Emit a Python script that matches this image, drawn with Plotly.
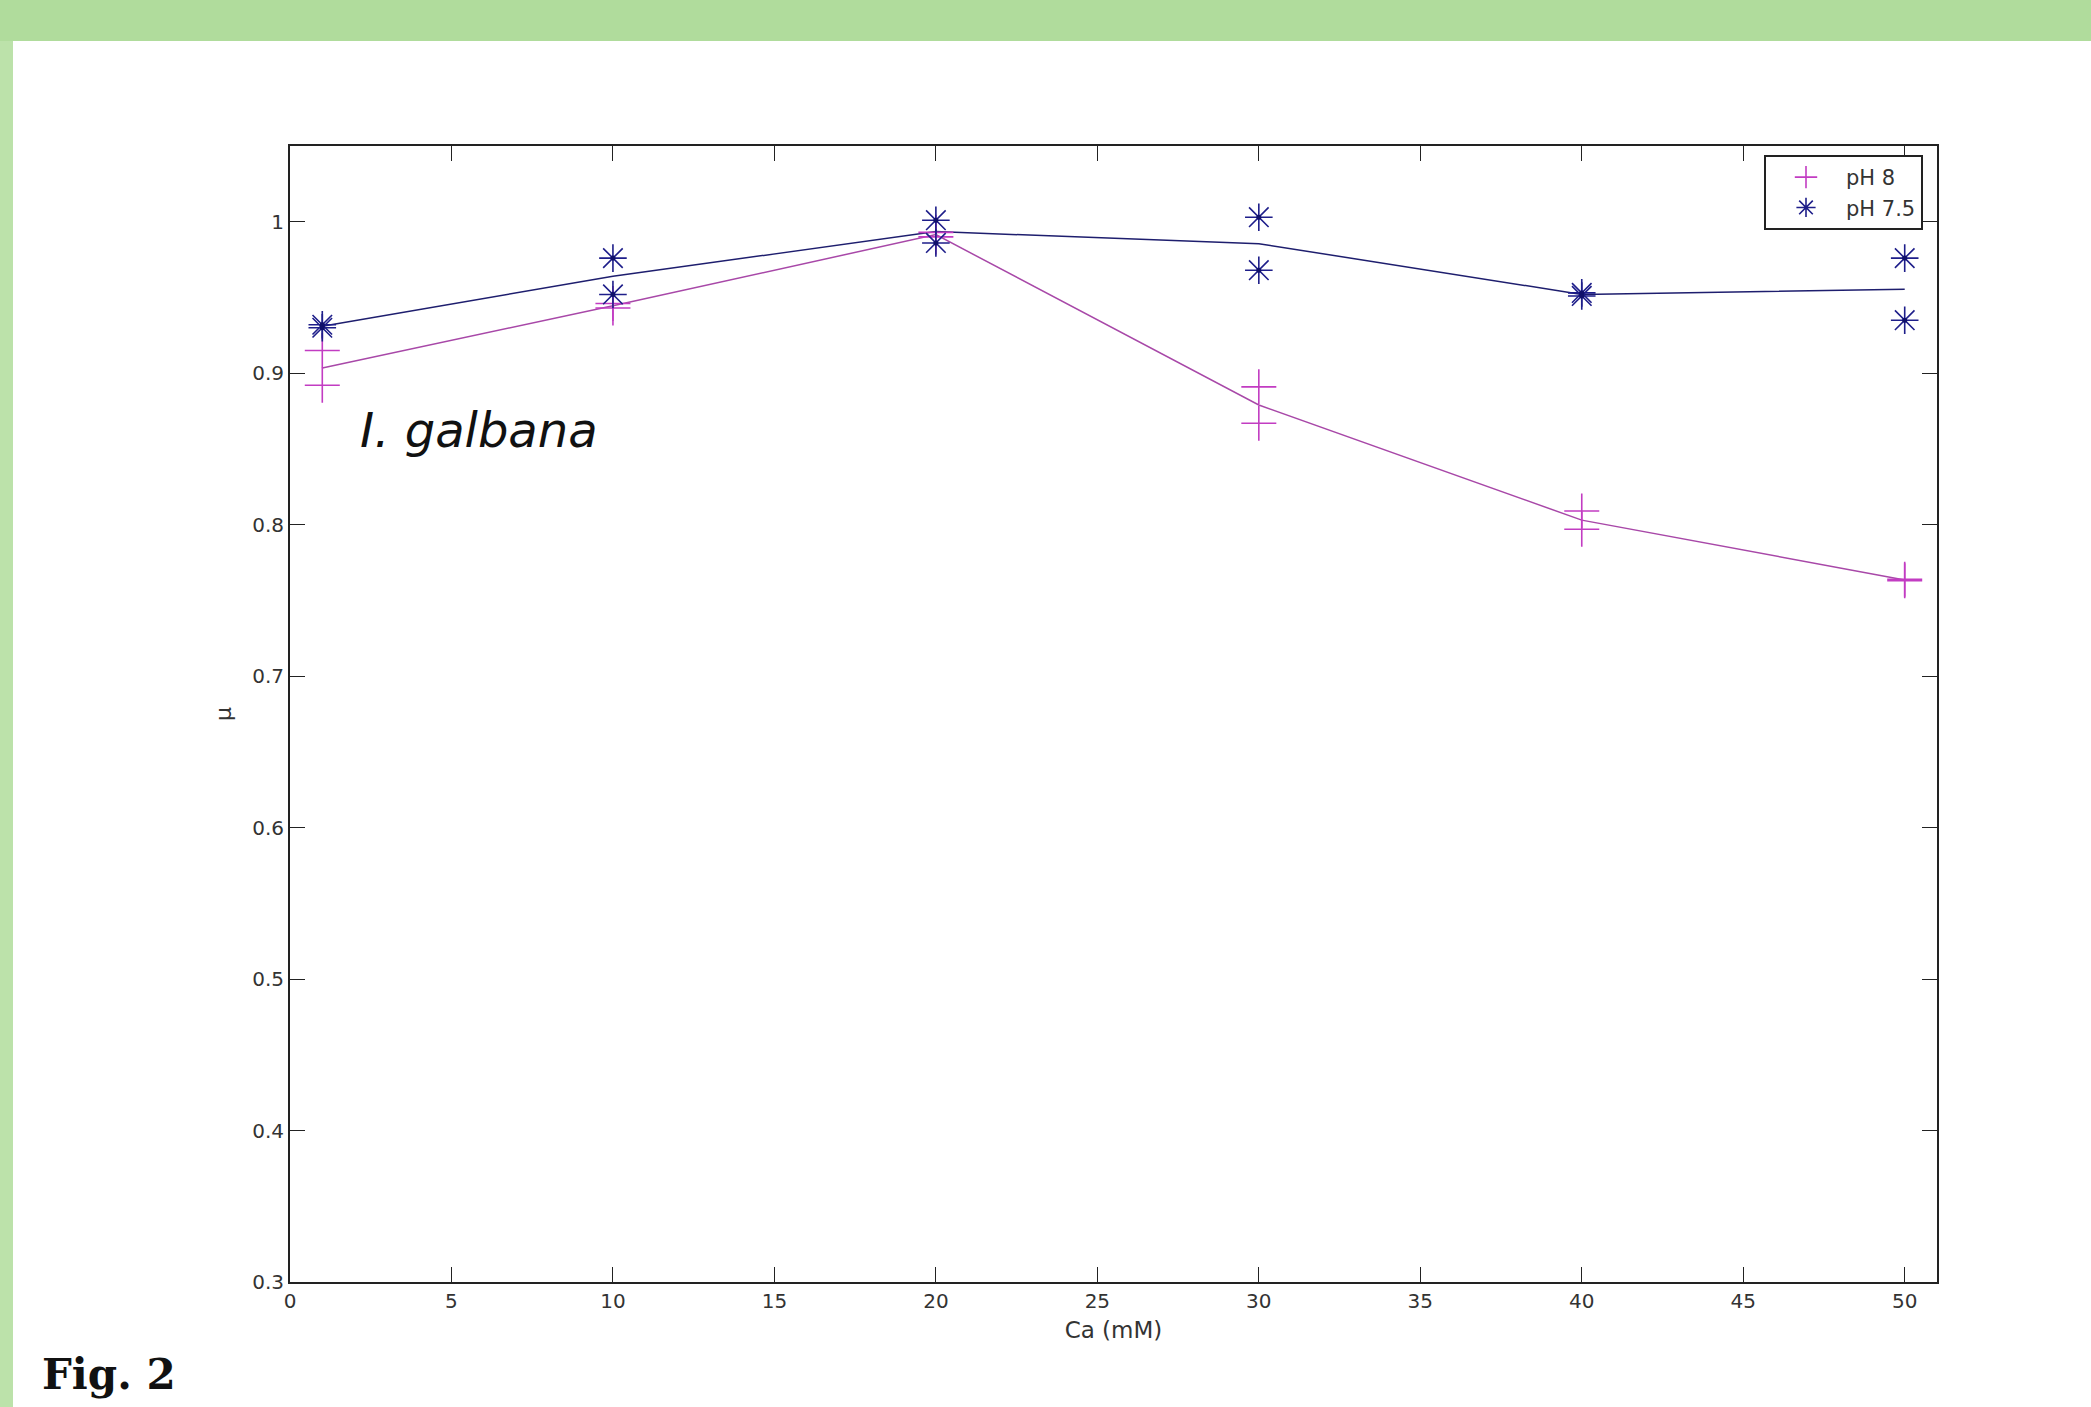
import plotly.graph_objects as go

# Calcium concentration (mM)
ca = [1, 10, 20, 30, 40, 50]

# Specific growth rate, two replicates per condition
ph8_rep1 = [0.915, 0.946, 0.993, 0.891, 0.809, 0.764]
ph8_rep2 = [0.892, 0.943, 0.990, 0.867, 0.797, 0.763]
ph75_rep1 = [0.932, 0.976, 1.001, 1.003, 0.953, 0.976]
ph75_rep2 = [0.930, 0.952, 0.986, 0.968, 0.951, 0.935]

x_ticks = [0, 5, 10, 15, 20, 25, 30, 35, 40, 45, 50]
y_ticks = [0.3, 0.4, 0.5, 0.6, 0.7, 0.8, 0.9, 1.0]
y_ticktext = ["0.3", "0.4", "0.5", "0.6", "0.7", "0.8", "0.9", "1"]

PINK = "#C23CC2"
PINK_LINE = "#A848A8"
NAVY = "#1E1E8A"
NAVY_LINE = "#1E1E6E"
FONT = "DejaVu Sans, Arial, sans-serif"

W, H = 2091, 1407
ML, MR, MT, MB = 290, 154, 146, 125
PW, PH = W - ML - MR, H - MT - MB


def px_x(px):
    return (px - ML) / PW


def px_y(py):
    return (H - MB - py) / PH


ph8_mean = [(a + b) / 2 for a, b in zip(ph8_rep1, ph8_rep2)]
ph75_mean = [(a + b) / 2 for a, b in zip(ph75_rep1, ph75_rep2)]

fig = go.Figure()

# Mean lines
fig.add_trace(go.Scatter(x=ca, y=ph8_mean, mode="lines",
                         line=dict(color=PINK_LINE, width=1.5), showlegend=False))
fig.add_trace(go.Scatter(x=ca, y=ph75_mean, mode="lines",
                         line=dict(color=NAVY_LINE, width=1.5), showlegend=False))

# Replicate points
fig.add_trace(go.Scatter(x=ca + ca, y=ph8_rep1 + ph8_rep2, mode="markers", name="pH 8",
                         marker=dict(symbol="cross-thin", size=25, color=PINK,
                                     line=dict(color=PINK, width=1.6))))
fig.add_trace(go.Scatter(x=ca + ca, y=ph75_rep1 + ph75_rep2, mode="markers", name="pH 7.5",
                         marker=dict(symbol="asterisk", size=23, color=NAVY,
                                     line=dict(color=NAVY, width=1.6))))
fig.add_trace(go.Scatter(x=ca + ca, y=ph75_rep1 + ph75_rep2, mode="markers",
                         marker=dict(symbol="circle", size=5, color="#10106A"),
                         showlegend=False, hoverinfo="skip"))

axis_common = dict(
    showline=True, linecolor="#222222", linewidth=2, mirror="ticks",
    ticks="inside", ticklen=15, tickwidth=1.3, tickcolor="#222222",
    showgrid=False, zeroline=False,
    tickfont=dict(family=FONT, size=20, color="#333333"),
)

fig.update_layout(
    width=W, height=H,
    margin=dict(l=ML, r=MR, t=MT, b=MB),
    paper_bgcolor="white", plot_bgcolor="white",
    xaxis=dict(range=[0, 51], tickvals=x_ticks,
               title=dict(text="Ca (mM)", font=dict(family=FONT, size=23, color="#333333"),
                          standoff=10),
               **axis_common),
    yaxis=dict(range=[0.3, 1.05], tickvals=y_ticks, ticktext=y_ticktext,
               title=dict(text="μ", font=dict(family=FONT, size=22, color="#333333"),
                          standoff=14),
               **axis_common),
    legend=dict(x=px_x(1764), y=px_y(155), xanchor="left", yanchor="top",
                bgcolor="white", bordercolor="#222222", borderwidth=2,
                font=dict(family=FONT, size=21, color="#333333"),
                itemwidth=70, tracegroupgap=2),
    shapes=[
        dict(type="rect", xref="paper", yref="paper", layer="below",
             x0=px_x(0), x1=px_x(W), y0=px_y(41), y1=px_y(0),
             fillcolor="#B0DC9C", line=dict(width=0)),
        dict(type="rect", xref="paper", yref="paper", layer="below",
             x0=px_x(0), x1=px_x(13), y0=px_y(H), y1=px_y(41),
             fillcolor="#BCE2AA", line=dict(width=0)),
    ],
    annotations=[
        dict(text="<i>I. galbana</i>", x=2.1, y=0.8627, xref="x", yref="y",
             xanchor="left", yanchor="middle", showarrow=False,
             font=dict(family=FONT, size=48, color="#111111")),
        dict(text="<b>Fig. 2</b>", x=px_x(40), y=px_y(1374), xref="paper", yref="paper",
             xanchor="left", yanchor="middle", showarrow=False,
             font=dict(family="DejaVu Serif", size=42, color="#111111")),
    ],
)

fig.write_html("out.html")
